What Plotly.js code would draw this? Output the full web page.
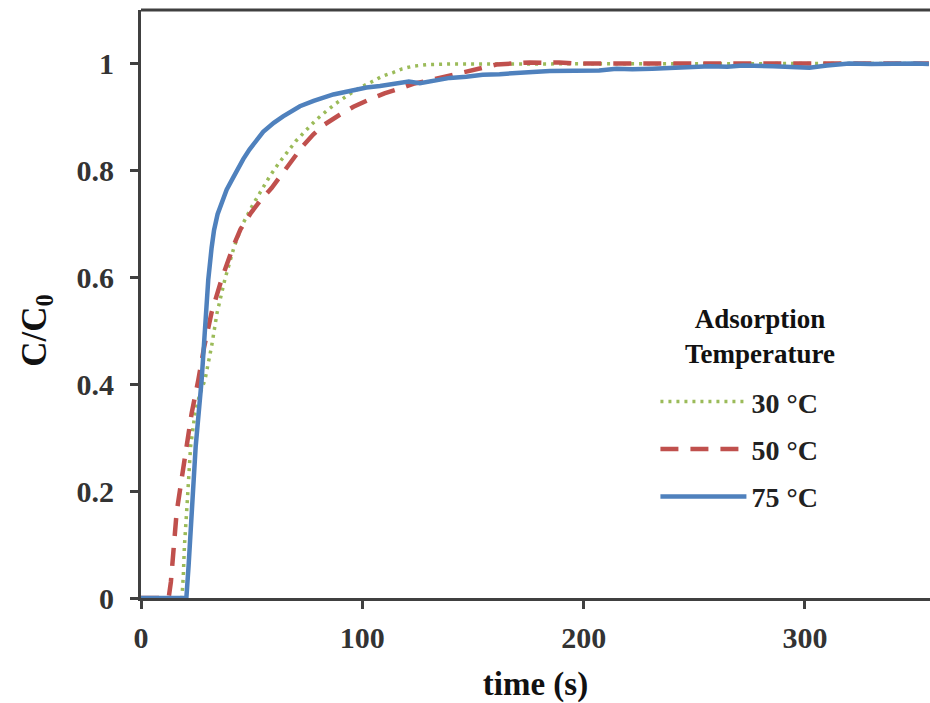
<!DOCTYPE html>
<html>
<head>
<meta charset="utf-8">
<script src="https://cdn.plot.ly/plotly-3.0.1.min.js"></script>
<style>html,body{margin:0;padding:0;background:#fff}</style>
</head>
<body>
<div id="chart" style="width:930px;height:703px"></div>
<script>
// 30 °C (green dotted)
const t30 = [0, 5, 10, 15, 18.5, 19.1, 19.6, 20.6, 21.4, 22.4, 24.4, 26.5, 28.9, 31.9, 34.4, 37.9, 42, 46, 50.7, 55, 58.2, 62, 65.8, 70, 74.8, 79, 83.8, 88, 92.9, 99, 104.9, 109, 113.9, 118, 123, 130, 140, 150, 160, 175, 190, 205, 220, 235, 250, 265, 280, 295, 310, 325, 340, 356];
const c30 = [0, 0, 0, 0, 0, 0.04, 0.096, 0.16, 0.221, 0.283, 0.346, 0.38, 0.408, 0.471, 0.534, 0.596, 0.656, 0.70, 0.737, 0.767, 0.789, 0.812, 0.833, 0.855, 0.876, 0.894, 0.911, 0.925, 0.939, 0.955, 0.967, 0.976, 0.983, 0.99, 0.995, 0.998, 0.999, 0.999, 1.0, 1.0, 0.999, 1.0, 1.0, 1.0, 1.0, 1.0, 0.999, 1.0, 1.0, 1.0, 1.0, 1.0];

// 50 °C (red dashed)
const t50 = [0, 5, 10, 12.5, 13.5, 14.6, 16.1, 18.3, 20.6, 22.9, 25.9, 28.6, 31.9, 36.4, 41.7, 45, 49.6, 54, 59, 64, 68.8, 73, 77.8, 83, 89.8, 96, 103.4, 110, 117, 123, 132, 139, 145.5, 153, 160.6, 168, 175.6, 182, 189, 196, 204, 215, 225, 240, 255, 270, 285, 300, 315, 330, 345, 356];
const c50 = [0, 0, 0, 0, 0.03, 0.096, 0.16, 0.221, 0.283, 0.346, 0.408, 0.471, 0.534, 0.596, 0.658, 0.69, 0.72, 0.744, 0.767, 0.795, 0.82, 0.845, 0.867, 0.886, 0.904, 0.919, 0.933, 0.944, 0.953, 0.962, 0.97, 0.977, 0.984, 0.992, 0.998, 1.0, 1.002, 1.001, 1.002, 1.0, 1.0, 1.001, 1.0, 1.002, 1.0, 1.001, 1.0, 1.001, 1.002, 1.001, 1.0, 1.0];

// 75 °C (blue solid)
const t75 = [0, 5, 10, 15, 20.5, 21.5, 22.9, 24.7, 27.4, 29.2, 30.4, 31.9, 33, 34.6, 36.5, 38.7, 41.7, 44, 46.2, 49, 52.2, 55.2, 60, 64.2, 71.8, 78, 86.9, 93, 101.9, 108, 117, 121, 126, 132, 139.5, 147, 154.4, 162, 169.6, 177, 184.7, 192, 199.6, 207, 214.8, 222, 231, 240, 248, 257, 265, 272, 285.6, 293, 302, 310, 320, 330, 340, 350, 356];
const c75 = [0, 0, 0, 0, 0, 0.06, 0.16, 0.283, 0.408, 0.534, 0.596, 0.655, 0.688, 0.718, 0.742, 0.764, 0.787, 0.805, 0.821, 0.839, 0.856, 0.872, 0.889, 0.901, 0.92, 0.93, 0.942, 0.948, 0.955, 0.958, 0.965, 0.966, 0.963, 0.968, 0.973, 0.975, 0.979, 0.98, 0.983, 0.984, 0.986, 0.986, 0.988, 0.987, 0.99, 0.989, 0.99, 0.992, 0.993, 0.995, 0.994, 0.996, 0.995, 0.994, 0.992, 0.996, 1.0, 0.999, 1.0, 1.0, 0.999];

const seriesNames = ['30 °C', '50 °C', '75 °C'];
const legendTitle = 'Adsorption<br>Temperature';
const xTicks = [0, 100, 200, 300];
const yTicks = [0, 0.2, 0.4, 0.6, 0.8, 1];
const yTickText = ['0', '0.2', '0.4', '0.6', '0.8', '1'];
const xTitle = 'time (s)';
const yTitle = 'C/C<sub>0</sub>';

const axisColor = '#404040';
const fontFam = 'Liberation Serif, Times New Roman, serif';

const traces = [
  {x: t30, y: c30, name: seriesNames[0], mode: 'lines', legendgroup: 'a',
   line: {color: '#9BBB59', width: 3.5, dash: '3px,5px'}},
  {x: t50, y: c50, name: seriesNames[1], mode: 'lines', legendgroup: 'b',
   line: {color: '#C0504D', width: 4.5, dash: '18px,12px'}},
  {x: t75, y: c75, name: seriesNames[2], mode: 'lines', legendgroup: 'c',
   line: {color: '#4F81BD', width: 4.5}}
];

const layout = {
  width: 930, height: 703,
  margin: {l: 141, r: 0, t: 10, b: 105},
  paper_bgcolor: '#fff', plot_bgcolor: '#fff',
  font: {family: fontFam, color: '#222'},
  showlegend: true,
  legend: {
    x: 0.652, y: 0.376, xanchor: 'left', yanchor: 'top',
    bgcolor: 'rgba(0,0,0,0)',
    traceorder: 'grouped', tracegroupgap: 8,
    itemwidth: 86,
    font: {family: fontFam, size: 28, weight: 'bold', color: '#222'}
  },
  xaxis: {
    range: [0, 356.5], tickvals: xTicks, ticks: 'outside', ticklen: 8, tickwidth: 3,
    tickcolor: axisColor, showline: true, linewidth: 3, linecolor: axisColor,
    showgrid: false, zeroline: false, ticklabelstandoff: 3,
    tickfont: {family: fontFam, size: 30, weight: 'bold', color: '#333'},
    title: {text: xTitle, standoff: 20, font: {family: fontFam, size: 33, weight: 'bold', color: '#111'}}
  },
  yaxis: {
    range: [0, 1.1], tickvals: yTicks, ticktext: yTickText, ticks: 'outside', ticklen: 8, tickwidth: 3,
    tickcolor: axisColor, showline: true, linewidth: 3, linecolor: axisColor,
    showgrid: false, zeroline: false, ticklabelstandoff: 10,
    tickfont: {family: fontFam, size: 30, weight: 'bold', color: '#333'}
  },
  annotations: [
    {text: yTitle, xref: 'paper', yref: 'paper', x: -0.132, y: 0.456,
     xanchor: 'center', yanchor: 'middle', textangle: -90, showarrow: false,
     font: {family: fontFam, size: 35, weight: 'bold', color: '#111'}},
    {text: legendTitle, xref: 'paper', yref: 'paper', x: 0.785, y: 0.445,
     xanchor: 'center', yanchor: 'middle', align: 'center', showarrow: false,
     font: {family: fontFam, size: 27, weight: 'bold', color: '#111'}}
  ],
  shapes: [
    {type: 'line', xref: 'paper', yref: 'paper', x0: 0, x1: 1, y0: 1, y1: 1,
     line: {color: axisColor, width: 3}}
  ]
};

Plotly.newPlot('chart', traces, layout, {displayModeBar: false, staticPlot: true});
</script>
</body>
</html>
